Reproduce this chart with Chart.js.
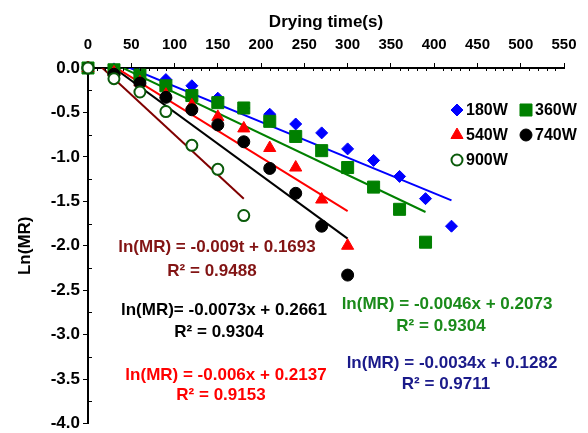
<!DOCTYPE html>
<html>
<head>
<meta charset="utf-8">
<script src="https://cdn.jsdelivr.net/npm/chart.js@4.4.1/dist/chart.umd.min.js"></script>
<style>
  html, body { margin: 0; padding: 0; background: #fff; }
</style>
</head>
<body>
<canvas id="chart" width="588" height="433"></canvas>
<script>
// drying time (s) and ln(MR)
const times = [0, 30, 60, 90, 120, 150, 180, 210, 240, 270, 300, 330, 360, 390, 420];
const ln180 = [0, -0.01, -0.07, -0.13, -0.2, -0.34, -0.45, -0.52, -0.63, -0.73, -0.91, -1.04, -1.22, -1.47, -1.78];
const ln360 = [0, -0.02, -0.08, -0.2, -0.31, -0.39, -0.45, -0.6, -0.77, -0.93, -1.12, -1.34, -1.59, -1.96];
const ln540 = [0, -0.05, -0.16, -0.3, -0.42, -0.55, -0.68, -0.9, -1.12, -1.48, -2.0];
const ln740 = [0, -0.07, -0.17, -0.33, -0.47, -0.64, -0.83, -1.13, -1.41, -1.78, -2.33];
const ln900 = [0, -0.12, -0.27, -0.49, -0.87, -1.14, -1.66];

// trend lines: value at t = 0 and at the last time of each series
const trendEnd = [420, 390, 300, 300, 180];
const trend180 = [0.195, -1.49];
const trend360 = [0.187, -1.62];
const trend540 = [0.198, -1.61];
const trend740 = [0.215, -1.92];
const trend900 = [0.15, -1.47];

const seriesNames = ['180W', '360W', '540W', '740W', '900W'];
const xTicks = [0, 50, 100, 150, 200, 250, 300, 350, 400, 450, 500, 550];

const equations = [
  ['ln(MR) = -0.009t + 0.1693', 'R\u00b2 = 0.9488', '#821414'],
  ['ln(MR)= -0.0073x + 0.2661', 'R\u00b2 = 0.9304', '#000000'],
  ['ln(MR) = -0.006x + 0.2137', 'R\u00b2 = 0.9153', '#ff0000'],
  ['ln(MR) = -0.0046x + 0.2073', 'R\u00b2 = 0.9304', '#1a8a1a'],
  ['ln(MR) = -0.0034x + 0.1282', 'R\u00b2 = 0.9711', '#1a1a8a']
];

const FONT = "'Liberation Sans', Arial, sans-serif";
Chart.defaults.font.family = FONT;
Chart.defaults.color = '#000';

function pts(vals) {
  return vals.map((v, i) => ({ x: times[i], y: v }));
}
function trend(vals, end) {
  return [{ x: 0, y: vals[0] }, { x: end, y: vals[1] }];
}

const markerStyles = [
  { pointStyle: 'rectRot', pointRadius: 6, color: '#0000ff', fill: '#0000ff', order: 5 },
  { pointStyle: 'rect', pointRadius: 8.5, color: '#008000', fill: '#008000', order: 4 },
  { pointStyle: 'triangle', pointRadius: 7, color: '#ff0000', fill: '#ff0000', order: 3 },
  { pointStyle: 'circle', pointRadius: 6, color: '#000000', fill: '#000000', order: 2 },
  { pointStyle: 'circle', pointRadius: 5.5, color: '#0a5a0a', fill: '#ffffff', order: 1, bw: 2 }
];
const allSeries = [ln180, ln360, ln540, ln740, ln900];
const allTrends = [trend180, trend360, trend540, trend740, trend900];
const trendColors = ['#0000ff', '#008000', '#ff0000', '#000000', '#800000'];

const datasets = [];
allSeries.forEach((s, i) => {
  const m = markerStyles[i];
  datasets.push({
    label: seriesNames[i],
    data: pts(s),
    showLine: false,
    pointStyle: m.pointStyle,
    pointRadius: m.pointRadius,
    pointHoverRadius: m.pointRadius,
    pointBackgroundColor: m.fill,
    pointBorderColor: m.color,
    pointBorderWidth: m.bw || 1,
    clip: false,
    order: m.order
  });
});
allTrends.forEach((t, i) => {
  datasets.push({
    type: 'line',
    label: 'fit ' + seriesNames[i],
    data: trend(t, trendEnd[i]),
    borderColor: trendColors[i],
    borderWidth: 2,
    pointRadius: 0,
    fill: false,
    order: 10
  });
});

// legend, equations and minor ticks
const extras = {
  id: 'extras',
  afterDraw(chart) {
    const ctx = chart.ctx;
    const xs = chart.scales.x, ys = chart.scales.y;
    const left = chart.chartArea.left, top = chart.chartArea.top;
    ctx.save();
    ctx.strokeStyle = '#000';
    ctx.lineWidth = 1;
    ctx.beginPath();
    for (let v = -0.25; v > -4; v -= 0.5) {
      const py = Math.round(ys.getPixelForValue(v)) + 0.5;
      ctx.moveTo(left, py); ctx.lineTo(left + 4, py);
    }
    for (let t = 10; t < 550; t += 10) {
      if (t % 50 === 0) continue;
      const px = Math.round(xs.getPixelForValue(t)) + 0.5;
      ctx.moveTo(px, top); ctx.lineTo(px, top + 3);
    }
    ctx.stroke();

    // equations
    const eqPos = [[217, 247, 212, 271], [224, 310, 219, 332], [226, 375, 221, 395], [447, 304, 441, 326], [452, 363, 446, 384]];
    ctx.font = 'bold 17px ' + FONT;
    ctx.textAlign = 'center';
    ctx.textBaseline = 'middle';
    equations.forEach((e, i) => {
      const p = eqPos[i];
      ctx.fillStyle = e[2];
      ctx.fillText(e[0], p[0], p[1]);
      ctx.fillText(e[1], p[2], p[3]);
    });

    // legend
    const legPos = [[457, 110], [526, 110], [457, 135], [526, 135], [457, 160]];
    ctx.textAlign = 'left';
    ctx.font = 'bold 16px ' + FONT;
    legPos.forEach((p, i) => {
      const m = markerStyles[i];
      ctx.fillStyle = m.fill;
      ctx.strokeStyle = m.color;
      ctx.lineWidth = m.bw || 1;
      Chart.helpers.drawPoint(ctx, { pointStyle: m.pointStyle, radius: m.pointRadius, rotation: 0, borderWidth: m.bw || 1 }, p[0], p[1]);
      ctx.fillStyle = '#000';
      ctx.fillText(seriesNames[i], p[0] + 9, p[1] + 1);
    });
    ctx.restore();
  }
};

new Chart(document.getElementById('chart'), {
  type: 'scatter',
  data: { datasets: datasets },
  options: {
    responsive: false,
    animation: false,
    layout: { padding: { left: 0, top: 0, right: 24, bottom: 9 } },
    plugins: { legend: { display: false }, tooltip: { enabled: false } },
    scales: {
      x: {
        type: 'linear',
        position: 'top',
        min: 0,
        max: 550,
        afterBuildTicks: (s) => { s.ticks = xTicks.map(v => ({ value: v })); },
        afterFit: (s) => { s.height = 68; },
        ticks: { font: { size: 15, weight: 'bold' }, padding: 9, maxRotation: 0 },
        grid: { display: true, drawOnChartArea: false, drawTicks: true, tickLength: 5, color: '#000', lineWidth: 1 },
        border: { display: true, color: '#000', width: 2 },
        title: { display: true, text: 'Drying time(s)', font: { size: 17, weight: 'bold' }, padding: { top: 12, bottom: 0 } }
      },
      y: {
        type: 'linear',
        position: 'left',
        min: -4,
        max: 0,
        afterFit: (s) => { s.width = 88; s.paddingTop = 0; s.paddingBottom = 0; },
        ticks: { stepSize: 0.5, font: { size: 17, weight: 'bold' }, padding: 3, callback: (v) => v.toFixed(1) },
        grid: { display: true, drawOnChartArea: false, drawTicks: true, tickLength: 5, color: '#000', lineWidth: 1 },
        border: { display: true, color: '#000', width: 2 },
        title: { display: true, text: 'Ln(MR)', font: { size: 17, weight: 'bold' }, padding: { top: 15, bottom: 0 } }
      }
    }
  },
  plugins: [extras]
});
</script>
</body>
</html>
